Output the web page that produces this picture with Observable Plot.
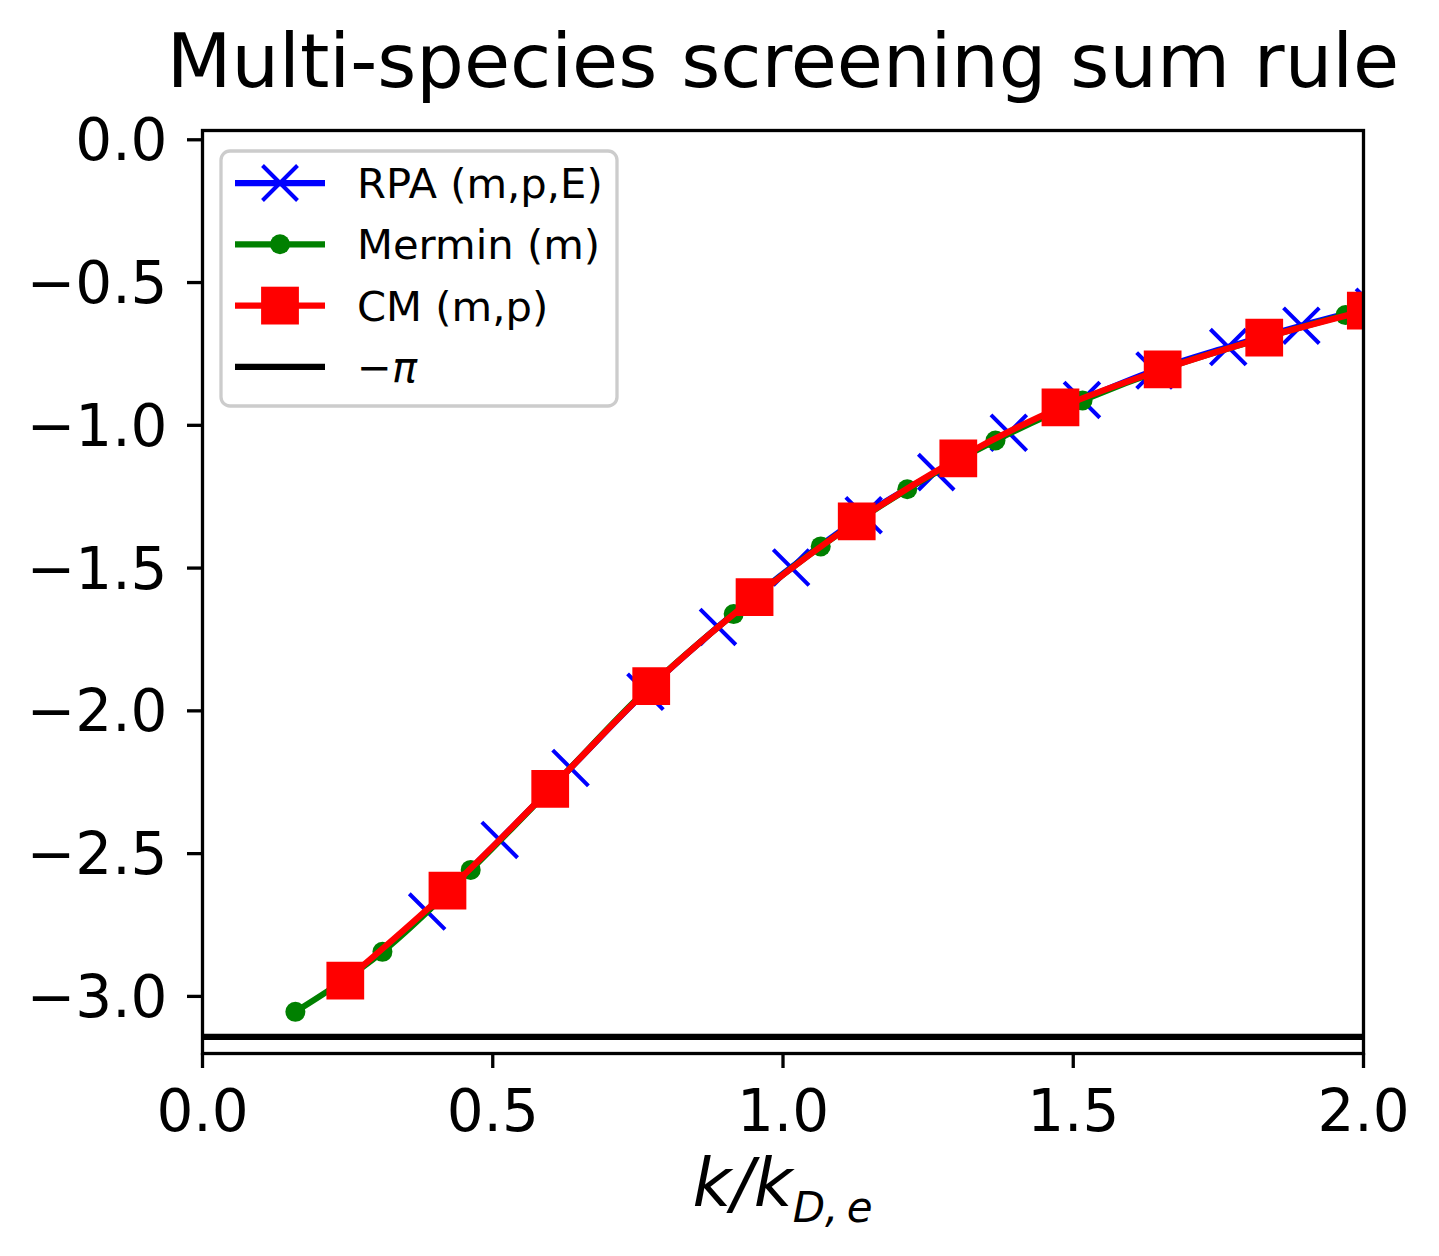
<!DOCTYPE html>
<html>
<head>
<meta charset="utf-8">
<script src="https://cdn.jsdelivr.net/npm/d3@7"></script>
<script src="https://cdn.jsdelivr.net/npm/@observablehq/plot@0.6"></script>
<style>
  body { margin: 0; background: #fff; }
  #chart { width: 1439px; height: 1256px; position: relative; }
  svg { font-family: "DejaVu Sans", sans-serif; }
</style>
</head>
<body>
<div id="chart"></div>
<script>
// ---- data ----
const title = "Multi-species screening sum rule";
const xTicks = [0.0, 0.5, 1.0, 1.5, 2.0];
const yTicks = [0.0, -0.5, -1.0, -1.5, -2.0, -2.5, -3.0];

const rpaK = [0.387, 0.512, 0.634, 0.763, 0.888, 1.014, 1.139, 1.264, 1.389, 1.515, 1.640, 1.767, 1.893, 2.018];
const rpaY = [-2.703, -2.452, -2.200, -1.933, -1.706, -1.498, -1.315, -1.164, -1.026, -0.911, -0.808, -0.726, -0.651, -0.585];

const merminK = [0.160, 0.310, 0.462, 0.612, 0.763, 0.915, 1.065, 1.214, 1.366, 1.516, 1.667, 1.818, 1.969];
const merminY = [-3.054, -2.844, -2.557, -2.246, -1.930, -1.661, -1.424, -1.224, -1.053, -0.913, -0.795, -0.700, -0.614];

const cmK = [0.246, 0.422, 0.599, 0.773, 0.951, 1.127, 1.302, 1.478, 1.654, 1.829, 2.004];
const cmY = [-2.945, -2.630, -2.273, -1.913, -1.602, -1.336, -1.116, -0.937, -0.804, -0.693, -0.598];

const minusPi = -Math.PI;
const legendLabels = ["RPA (m,p,E)", "Mermin (m)", "CM (m,p)", "−π"];

// ---- tables ----
const rpa = rpaK.map((k, i) => ({k, y: rpaY[i]}));
const mermin = merminK.map((k, i) => ({k, y: merminY[i]}));
const cm = cmK.map((k, i) => ({k, y: cmY[i]}));

const BLUE = "#0000ff", GREEN = "#008000", RED = "#ff0000";
const LW = 6.25, SPINE = 3.3, TICK = 15, FS = 58;
const M = {left: 202, right: 76, top: 130, bottom: 203};
const fmt = d3.format(".1f");

const plot = Plot.plot({
  width: 1439,
  height: 1256,
  marginLeft: M.left,
  marginRight: M.right,
  marginTop: M.top,
  marginBottom: M.bottom,
  style: {fontFamily: "DejaVu Sans", background: "white", color: "black"},
  x: {domain: [0, 2]},
  y: {domain: [-3.2, 0.0325]},
  marks: [
    Plot.line(rpa, {x: "k", y: "y", stroke: BLUE, strokeWidth: LW, curve: "monotone-x", clip: true}),
    Plot.dot(rpa, {x: "k", y: "y", symbol: "times", r: 16.3, stroke: BLUE, strokeWidth: 4, fill: "none", clip: true}),
    Plot.line(mermin, {x: "k", y: "y", stroke: GREEN, strokeWidth: LW, curve: "monotone-x", clip: true}),
    Plot.dot(mermin, {x: "k", y: "y", r: 10, fill: GREEN, stroke: "none", clip: true}),
    Plot.line(cm, {x: "k", y: "y", stroke: RED, strokeWidth: LW, curve: "monotone-x", clip: true}),
    Plot.dot(cm, {x: "k", y: "y", symbol: "square", r: 21.3, fill: RED, stroke: "none", clip: true}),
    Plot.ruleY([minusPi], {stroke: "black", strokeWidth: LW}),
    Plot.frame({stroke: "black", strokeWidth: SPINE}),
    // tick lines
    Plot.axisX({ticks: xTicks, anchor: "bottom", tickSize: TICK, strokeWidth: SPINE, fill: "none", label: null}),
    Plot.axisY({ticks: yTicks, anchor: "left", tickSize: TICK, strokeWidth: SPINE, fill: "none", label: null}),
    // tick labels
    Plot.axisX({ticks: xTicks, anchor: "bottom", tickSize: TICK, tickPadding: 21, stroke: "none", fontSize: FS, tickFormat: fmt, label: null, fill: "black"}),
    Plot.axisY({ticks: yTicks, anchor: "left", tickSize: TICK, tickPadding: 20, stroke: "none", fontSize: FS, tickFormat: fmt, label: null, dy: 2, fill: "black"}),
    // title
    Plot.text([title], {frameAnchor: "top", dy: -97, fontSize: 75, fill: "black", text: d => d})
  ]
});

document.getElementById("chart").appendChild(plot);

// ---- x-axis label with subscript ----
const svg = d3.select(plot);
const frameW = 1439 - M.left - M.right;
const frameH = 1256 - M.top - M.bottom;
const xl = svg.append("text")
  .attr("x", M.left + frameW / 2)
  .attr("y", M.top + frameH + 154)
  .attr("text-anchor", "middle")
  .attr("font-family", "DejaVu Sans")
  .attr("font-style", "italic")
  .attr("font-size", 67)
  .attr("fill", "black");
xl.append("tspan").text("k/k");
xl.append("tspan").attr("font-size", 42).attr("dy", 15).text("D,\u2009e");

// ---- legend ----
const lx = M.left + 19, ly = M.top + 21, lw = 396, lh = 255;
const lg = svg.append("g").attr("font-family", "DejaVu Sans").attr("text-anchor", "start");
lg.append("rect")
  .attr("x", lx).attr("y", ly).attr("width", lw).attr("height", lh)
  .attr("rx", 9).attr("ry", 9)
  .attr("fill", "white").attr("fill-opacity", 0.8)
  .attr("stroke", "#cccccc").attr("stroke-width", 3.3);

const rowY = i => ly + 32 + i * 61.3;
const hx0 = lx + 14, hx1 = lx + 104, hxc = lx + 59, tx = lx + 136;
const colors = [BLUE, GREEN, RED, "black"];
legendLabels.forEach((lab, i) => {
  const y = rowY(i);
  lg.append("line").attr("x1", hx0).attr("x2", hx1).attr("y1", y).attr("y2", y)
    .attr("stroke", colors[i]).attr("stroke-width", LW);
  if (i === 0) {
    const h = 17.5;
    lg.append("path").attr("d", `M${hxc - h},${y - h}L${hxc + h},${y + h}M${hxc - h},${y + h}L${hxc + h},${y - h}`)
      .attr("stroke", BLUE).attr("stroke-width", 4).attr("fill", "none");
  } else if (i === 1) {
    lg.append("circle").attr("cx", hxc).attr("cy", y).attr("r", 10).attr("fill", GREEN);
  } else if (i === 2) {
    lg.append("rect").attr("x", hxc - 18.9).attr("y", y - 18.9).attr("width", 37.8).attr("height", 37.8).attr("fill", RED);
  }
  const t = lg.append("text").attr("x", tx).attr("y", y).attr("dy", "0.36em")
    .attr("text-anchor", "start")
    .attr("font-size", 41.7).attr("fill", "black");
  if (lab === "−π") {
    t.append("tspan").text("−");
    t.append("tspan").attr("font-style", "italic").text("π");
  } else {
    t.text(lab);
  }
});
</script>
</body>
</html>
